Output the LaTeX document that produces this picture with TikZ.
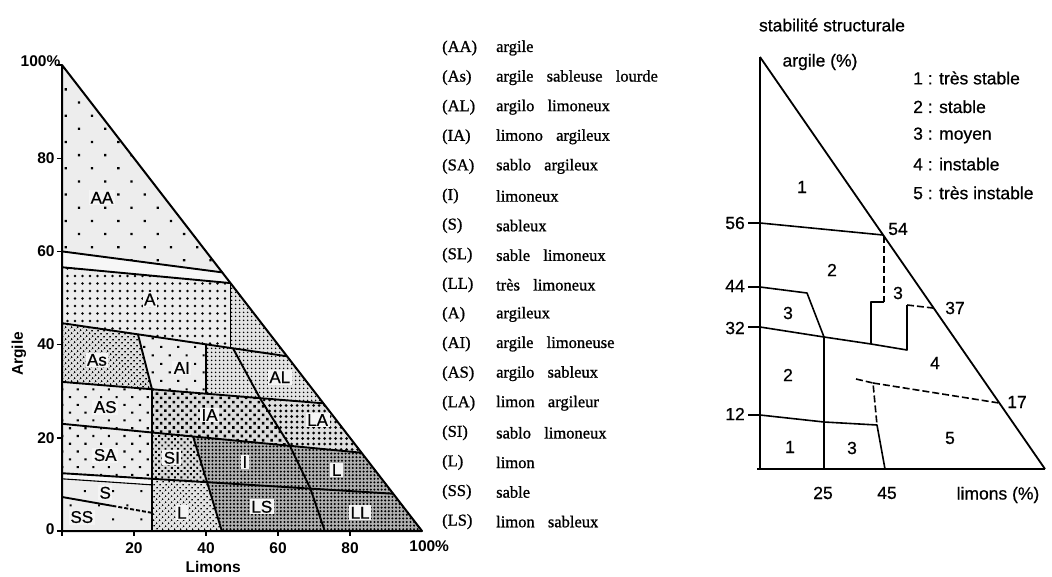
\documentclass[tikz,border=0pt]{standalone}
\usepackage{fontspec}
\setmainfont{Liberation Serif}
\newfontfamily\legf[FakeBold=1]{Liberation Serif}
\newfontfamily\sansf{Liberation Sans}
\newfontfamily\sansh[FakeBold=0.6]{Liberation Sans}
\usetikzlibrary{patterns.meta}
\newcommand\wsp{\hspace{0.8em}}
\begin{document}
\begin{tikzpicture}[x=1pt,y=-1pt]
\tikzset{
  bnd/.style={line width=1.9pt, line join=round},
  thinb/.style={line width=1.1pt},
  lg/.style={font=\legf\fontsize{16.5}{18}\selectfont, anchor=west, inner sep=0pt},
  rl/.style={font=\sansh\fontsize{17.5}{20}\selectfont, inner sep=0pt},
  tk/.style={font=\sansf\bfseries\fontsize{15.5}{17}\selectfont, inner sep=0pt},
  zl/.style={font=\sansh\fontsize{17}{19}\selectfont, inner sep=1.5pt, fill=gray!8},
  rline/.style={line width=1.6pt, line join=round},
  rdash/.style={line width=1.6pt, dash pattern=on 7pt off 3pt},
  pAA/.style={preaction={fill=gray!14}, pattern={Dots[distance=18.6pt,angle=45,radius=1.6pt]}},
  pStrip/.style={fill=gray!6},
  pA/.style={preaction={fill=gray!14}, pattern={Dots[distance=7.5pt,radius=1.35pt]}},
  pAs/.style={preaction={fill=gray!25}, pattern={Dots[distance=4pt,angle=45,radius=1.05pt]}},
  pAI/.style={preaction={fill=gray!14}, pattern={Dots[distance=12pt,angle=45,radius=1.5pt]}},
  pAL/.style={preaction={fill=gray!22}, pattern={Dots[distance=4pt,radius=1pt]}},
  pAS/.style={preaction={fill=gray!14}, pattern={Dots[distance=11pt,angle=45,radius=1.5pt]}},
  pIA/.style={preaction={fill=gray!28}, pattern={Dots[distance=6pt,angle=45,radius=1.8pt]}},
  pLA/.style={preaction={fill=gray!25}, pattern={Dots[distance=5.5pt,radius=1.5pt]}},
  pSI/.style={preaction={fill=gray!30}, pattern={Dots[distance=4.5pt,angle=45,radius=1.35pt]}},
  pDk/.style={preaction={fill=gray!62}, pattern={Dots[distance=3.6pt,radius=1.15pt]}},
  pS/.style={preaction={fill=gray!14}, pattern={Dots[distance=20pt,angle=45,radius=1.4pt]}},
  pLb/.style={preaction={fill=gray!22}, pattern={Dots[distance=4pt,angle=45,radius=1pt]}},
}
\useasboundingbox[fill=white] (0,0) rectangle (1052,576);

% ================= LEFT TRIANGLE =================
\begin{scope}[shift={(62,531)}, x=3.6pt, y=4.66pt]
 \fill[pAA] (0,100) -- (0,60) -- (44.5,55.5) -- cycle;
 \fill[pStrip] (0,60) -- (44.5,55.5) -- (46.8,53.2) -- (0,56.6) -- cycle;
 \fill[pA] (0,56.6) -- (46.8,53.2) -- (46.8,39.28) -- (0,44.6) -- cycle;
 \fill[pAL] (46.8,53.2) -- (62.5,37.5) -- (47.5,39.2) -- (46.8,39.28) -- cycle;
 \fill[pAs] (0,44.6) -- (21.1,42.2) -- (25,30.4) -- (0,32) -- cycle;
 \fill[pAI] (21.1,42.2) -- (40,40.06) -- (40,29.44) -- (25,30.4) -- cycle;
 \fill[pAL] (40,40.06) -- (47.5,39.2) -- (55,28.48) -- (40,29.44) -- cycle;
 \fill[pAL] (47.5,39.2) -- (62.5,37.5) -- (72.6,27.4) -- (55,28.48) -- cycle;
 \fill[pAS] (0,32) -- (25,30.4) -- (25,21.14) -- (0,23) -- cycle;
 \fill[pIA] (25,30.4) -- (55,28.48) -- (63.3,18.28) -- (25,21.14) -- cycle;
 \fill[pLA] (55,28.48) -- (72.6,27.4) -- (83.2,16.8) -- (63.3,18.28) -- cycle;
 \fill[pAS] (0,23) -- (25,21.14) -- (25,11.2) -- (0,12.4) -- cycle;
 \fill[pSI] (25,21.14) -- (36.4,20.29) -- (40.3,10.47) -- (25,11.2) -- cycle;
 \fill[pDk] (36.4,20.29) -- (63.3,18.28) -- (69,9.09) -- (40.3,10.47) -- cycle;
 \fill[pDk] (63.3,18.28) -- (83.2,16.8) -- (92,8) -- (69,9.09) -- cycle;
 \fill[pStrip] (0,12.4) -- (25,11.2) -- (25,9.9) -- (0,11.2) -- cycle;
 \fill[pS] (0,11.2) -- (25,9.9) -- (25,3.9) -- (0,7.3) -- cycle;
 \fill[pS] (0,7.3) -- (25,3.9) -- (25,0) -- (0,0) -- cycle;
 \fill[pLb] (25,11.2) -- (40.3,10.47) -- (44.4,0) -- (25,0) -- cycle;
 \fill[pDk] (40.3,10.47) -- (69,9.09) -- (73,0) -- (44.4,0) -- cycle;
 \fill[pDk] (69,9.09) -- (92,8) -- (100,0) -- (73,0) -- cycle;
 % boundaries
 \draw[bnd] (0,60) -- (44.5,55.5);
 \draw[bnd] (0,56.6) -- (46.8,53.2);
 \draw[bnd] (0,44.6) -- (62.5,37.5);
 \draw[bnd] (0,32) -- (72.6,27.4);
 \draw[bnd] (0,23) -- (83.2,16.8);
 \draw[bnd] (0,12.4) -- (92,8);
 \draw[thinb] (0,11.2) -- (25,9.9);
 \draw[bnd] (0,7.3) -- (14,5.4);
 \draw[bnd, dash pattern=on 4pt off 2pt] (14,5.4) -- (25,3.9);
 \draw[bnd] (21.1,42.2) -- (25,30.4) -- (25,0);
 \draw[thinb] (40,40.06) -- (40,29.44);
 \draw[thinb] (46.8,53.2) -- (46.8,39.28);
 \draw[bnd] (47.5,39.2) -- (55,28.48) -- (63.3,18.28) -- (69,9.09) -- (73,0);
 \draw[bnd] (36.4,20.29) -- (40.3,10.47) -- (44.4,0);
 \draw[line width=2pt, line join=round] (0,100) -- (0,0) -- (100,0) -- cycle;
 % ticks
 \foreach \v in {0,20,40,60,80,100} \draw[line width=1.4pt] (-1.4,\v) -- (0,\v);
 \foreach \v in {0,20,40,60,80} \draw[line width=1.4pt] (\v,0) -- (\v,-1.1);
 \node[tk, anchor=east] (t100) at (-0.4,100.8) {100\%};
 \node[tk, anchor=east] (t80) at (-2,80) {80};
 \node[tk, anchor=east] (t60) at (-2,60) {60};
 \node[tk, anchor=east] (t40) at (-2,40) {40};
 \node[tk, anchor=east] (t20) at (-2,20) {20};
 \node[tk, anchor=east] (t0) at (-2,0.4) {0};
 \node[tk] (b20) at (20,-3.7) {20};
 \node[tk] (b40) at (40,-3.7) {40};
 \node[tk] (b60) at (60,-3.7) {60};
 \node[tk] (b80) at (80,-3.7) {80};
 \node[tk] (b100) at (102,-3.2) {100\%};
 \node[tk] (xlab) at (42,-7.8) {Limons};
 \node[tk, rotate=90] (ylab) at (-12,38) {Argile};
 % zone labels
 \node[zl] (zAA) at (11.1,71.5) {AA};
 \node[zl] (zA) at (24.4,49.7) {A};
 \node[zl] (zAs) at (9.7,36.7) {As};
 \node[zl] (zAI) at (33.3,35) {AI};
 \node[zl] (zAL) at (60.5,33) {AL};
 \node[zl] (zAS) at (12,26.6) {AS};
 \node[zl] (zIA) at (41,24.9) {IA};
 \node[zl] (zLA) at (71,23.8) {LA};
 \node[zl] (zSA) at (12,16.3) {SA};
 \node[zl] (zSI) at (30.5,15.7) {SI};
 \node[zl] (zI) at (50.8,14.8) {I};
 \node[zl] (zL) at (76.3,13.1) {L};
 \node[zl] (zS) at (12,8.2) {S};
 \node[zl] (zSS) at (5.5,3) {SS};
 \node[zl] (zLb) at (33.3,3.9) {L};
 \node[zl] (zLS) at (55.5,5.2) {LS};
 \node[zl] (zLL) at (82.8,3.9) {LL};
\end{scope}

% ================= LEGEND =================
\foreach \ab/\tx [count=\i from 0] in {
  (AA)/argile,
  (As)/argile\wsp sableuse\wsp lourde,
  (AL)/argilo\wsp limoneux,
  (IA)/limono\wsp argileux,
  (SA)/sablo\wsp argileux,
  (I)/limoneux,
  (S)/sableux,
  (SL)/sable\wsp limoneux,
  (LL)/très\wsp limoneux,
  (A)/argileux,
  (AI)/argile\wsp limoneuse,
  (AS)/argilo\wsp sableux,
  (LA)/limon\wsp argileur,
  (SI)/sablo\wsp limoneux,
  (L)/limon,
  (SS)/sable,
  (LS)/limon\wsp sableux}
{
  \node[lg] (ab\i) at (442,{48+29.6*\i}) {\ab};
  \node[lg] (tx\i) at (496,{48+29.6*\i}) {\tx};
}

% ================= RIGHT TRIANGLE =================
\coordinate (rA) at (760,57);
\coordinate (rO) at (760,469);
\coordinate (rB) at (1045,469);
\draw[rline] (rA) -- (rO);
\draw[line width=1.8pt] (rA) -- (rB);
\draw[line width=2.6pt] (757,469) -- (rB);
% ticks
\foreach \yy in {223,287,327,415} \draw[rline] (748,\yy) -- (760,\yy);
% internal lines
\draw[rline] (760,223) -- (883,235);
\draw[rdash] (884,236) -- (884,302);
\draw[rline] (884,302) -- (871,302) -- (871,344);
\draw[rline] (760,327) -- (824,337) -- (871,344) -- (907,350) -- (907,305);
\draw[rdash] (907,305) -- (933,308);
\draw[rline] (760,287) -- (807,293) -- (824,337) -- (824,469);
\draw[rline] (760,415) -- (824,422) -- (877,425) -- (885,469);
\draw[rdash] (856,379) -- (873,383) -- (877,425);
\draw[rdash] (873,383) -- (999,403);
% labels
\node[rl] (title) at (832,25) {stabilité structurale};
\node[rl] (ylr) at (820,62) {argile (\%)};
\node[rl] (xlr) at (998,495) {limons (\%)};
\node[rl, anchor=east] (r56) at (745,223) {56};
\node[rl, anchor=east] (r44) at (745,286) {44};
\node[rl, anchor=east] (r32) at (745,328) {32};
\node[rl, anchor=east] (r12) at (745,414) {12};
\node[rl] (r54) at (898,229) {54};
\node[rl] (r37) at (955,308) {37};
\node[rl] (r17) at (1017,402) {17};
\node[rl] (r25) at (823,493) {25};
\node[rl] (r45) at (887,493) {45};
\node[rl] (z1a) at (802,187) {1};
\node[rl] (z2a) at (832,270) {2};
\node[rl] (z3a) at (898,293) {3};
\node[rl] (z3b) at (788,313) {3};
\node[rl] (z4) at (935,363) {4};
\node[rl] (z2b) at (788,375) {2};
\node[rl] (z5) at (950,438) {5};
\node[rl] (z1b) at (790,447) {1};
\node[rl] (z3c) at (852,448) {3};
\foreach \t [count=\i from 0] in {1 : très stable, 2 : stable, 3 : moyen, 4 : instable, 5 : très instable}
  \node[rl, anchor=west] (leg\i) at (913,{78+28.7*\i}) {\t};
\end{tikzpicture}
\end{document}
